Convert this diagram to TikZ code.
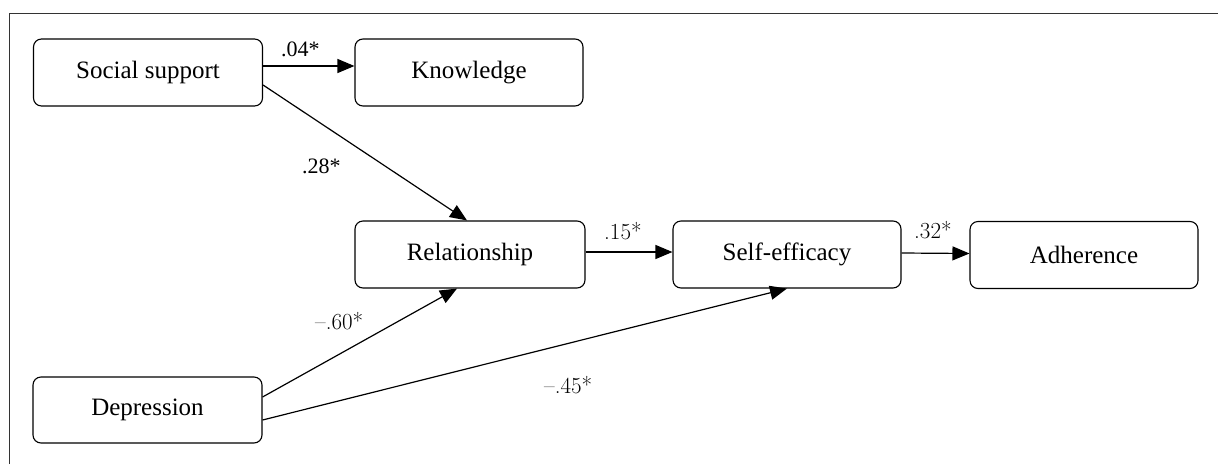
\documentclass[tikz,border=0pt]{standalone}
\usepackage{fontspec}
\setmainfont{Liberation Serif}
\newfontfamily\cmrfont[Ligatures=TeX]{Latin Modern Roman}
\usetikzlibrary{arrows.meta}
\begin{document}
\begin{tikzpicture}[x=1pt,y=-1pt,
  box/.style={draw=black, line width=1.1pt, rounded corners=8pt, minimum height=67pt,
    minimum width=229pt, inner sep=0pt, font=\fontsize{25}{30}\selectfont},
  conn/.style={line width=1.2pt, -{Triangle[length=17pt,width=14pt]}},
  lbl/.style={inner sep=0pt, anchor=base west, font=\cmrfont\fontsize{23}{27}\selectfont},
  lblt/.style={inner sep=0pt, anchor=base west, font=\fontsize{22}{26}\selectfont}]
\useasboundingbox (0,0) rectangle (1218,464);
% frame
\draw[line width=1pt, black!80] (9.5,464) -- (9.5,13.5) -- (1218,13.5);
% boxes
\node[box] (ss)  at (148,72.5) {Social support};
\node[box, minimum width=228pt] (kn)  at (469,72.5) {Knowledge};
\node[box, minimum width=230pt] (rel) at (470,254.5) {Relationship};
\node[box, minimum width=228pt] (se)  at (787,254.5) {Self-efficacy};
\node[box, minimum width=228pt] (adh) at (1084,255) {Adherence};
\node[box, minimum height=66pt] (dep) at (147.5,410) {Depression};
% connectors
\draw[conn] ([yshift=6.5pt]ss.east) -- ([yshift=6.5pt]kn.west);
\draw[conn] ([yshift=-12.5pt]ss.east) -- ([xshift=-3pt]rel.north);
\draw[conn] ([yshift=2.5pt]rel.east) -- ([yshift=2.5pt]se.west);
\draw[conn] ([yshift=1.5pt]se.east) -- ([yshift=1.5pt]adh.west);
\draw[conn] ([yshift=13pt]dep.east) -- ([xshift=-13pt]rel.south);
\draw[conn] ([yshift=-10pt]dep.east) -- (se.south);
% labels
\node[lblt] (l04) at (281,56) {.04*};
\node[lblt] (l28) at (302,173) {.28*};
\node[lbl] (l15) at (604,239) {.15*};
\node[lbl] (l32) at (914,238) {.32*};
\node[lbl] (l60) at (315,329) {–.60*};
\node[lbl] (l45) at (544,393) {–.45*};
\end{tikzpicture}
\end{document}
